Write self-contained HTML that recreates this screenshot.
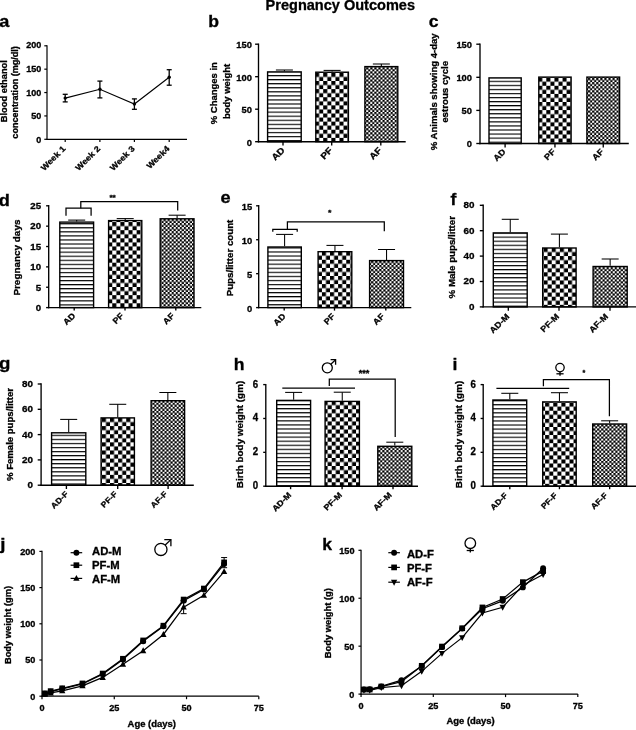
<!DOCTYPE html>
<html><head><meta charset="utf-8"><title>Pregnancy Outcomes</title>
<style>
html,body{margin:0;padding:0;background:#fff;}
body{width:636px;height:730px;overflow:hidden;font-family:"Liberation Sans",sans-serif;}
svg{display:block;filter:blur(0.42px);}
text{font-family:"Liberation Sans",sans-serif;font-weight:bold;fill:#000;stroke:#000;stroke-width:0.3px;}
</style></head><body>
<svg width="636" height="730" viewBox="0 0 636 730">
<defs>
</defs>
<rect width="636" height="730" fill="#fff"/>

<text transform="translate(340.30 10.30) scale(1.1 1)" font-size="14.20" text-anchor="middle" textLength="135.8" lengthAdjust="spacingAndGlyphs" >Pregnancy Outcomes</text>
<text transform="translate(-0.80 27.00) scale(1.1 1)" font-size="16.50" text-anchor="start" >a</text>
<line x1="47.00" y1="45.20" x2="47.00" y2="139.90" stroke="#000" stroke-width="1.2"/>
<line x1="44.30" y1="139.30" x2="47.00" y2="139.30" stroke="#000" stroke-width="1.2"/>
<text transform="translate(41.30 143.03) scale(1.1 1)" font-size="8.20" text-anchor="end" >0</text>
<line x1="44.30" y1="115.93" x2="47.00" y2="115.93" stroke="#000" stroke-width="1.2"/>
<text transform="translate(41.30 119.31) scale(1.1 1)" font-size="8.20" text-anchor="end" >50</text>
<line x1="44.30" y1="92.55" x2="47.00" y2="92.55" stroke="#000" stroke-width="1.2"/>
<text transform="translate(41.30 95.58) scale(1.1 1)" font-size="8.20" text-anchor="end" >100</text>
<line x1="44.30" y1="69.17" x2="47.00" y2="69.17" stroke="#000" stroke-width="1.2"/>
<text transform="translate(41.30 72.11) scale(1.1 1)" font-size="8.20" text-anchor="end" >150</text>
<line x1="44.30" y1="45.80" x2="47.00" y2="45.80" stroke="#000" stroke-width="1.2"/>
<text transform="translate(41.30 48.28) scale(1.1 1)" font-size="8.20" text-anchor="end" >200</text>
<line x1="46.40" y1="139.30" x2="187.00" y2="139.30" stroke="#000" stroke-width="1.2"/>
<line x1="65.20" y1="139.30" x2="65.20" y2="142.00" stroke="#000" stroke-width="1.2"/>
<line x1="99.90" y1="139.30" x2="99.90" y2="142.00" stroke="#000" stroke-width="1.2"/>
<line x1="134.40" y1="139.30" x2="134.40" y2="142.00" stroke="#000" stroke-width="1.2"/>
<line x1="169.20" y1="139.30" x2="169.20" y2="142.00" stroke="#000" stroke-width="1.2"/>
<polyline fill="none" stroke="#000" stroke-width="1.1" points="65.20,98.10 99.90,89.30 134.40,104.00 169.20,77.30"/>
<line x1="65.20" y1="94.30" x2="65.20" y2="101.90" stroke="#000" stroke-width="1.3"/>
<line x1="62.70" y1="94.30" x2="67.70" y2="94.30" stroke="#000" stroke-width="1.3"/>
<line x1="62.70" y1="101.90" x2="67.70" y2="101.90" stroke="#000" stroke-width="1.3"/>
<circle cx="65.2" cy="98.1" r="1.7" fill="#000"/>
<line x1="99.90" y1="81.10" x2="99.90" y2="97.90" stroke="#000" stroke-width="1.3"/>
<line x1="97.40" y1="81.10" x2="102.40" y2="81.10" stroke="#000" stroke-width="1.3"/>
<line x1="97.40" y1="97.90" x2="102.40" y2="97.90" stroke="#000" stroke-width="1.3"/>
<circle cx="99.9" cy="89.3" r="1.7" fill="#000"/>
<line x1="134.40" y1="98.90" x2="134.40" y2="109.30" stroke="#000" stroke-width="1.3"/>
<line x1="131.90" y1="98.90" x2="136.90" y2="98.90" stroke="#000" stroke-width="1.3"/>
<line x1="131.90" y1="109.30" x2="136.90" y2="109.30" stroke="#000" stroke-width="1.3"/>
<circle cx="134.4" cy="104" r="1.7" fill="#000"/>
<line x1="169.20" y1="69.70" x2="169.20" y2="85.20" stroke="#000" stroke-width="1.3"/>
<line x1="166.70" y1="69.70" x2="171.70" y2="69.70" stroke="#000" stroke-width="1.3"/>
<line x1="166.70" y1="85.20" x2="171.70" y2="85.20" stroke="#000" stroke-width="1.3"/>
<circle cx="169.2" cy="77.3" r="1.7" fill="#000"/>
<text transform="translate(66.00 149.30) rotate(-45) scale(1.1 1)" font-size="8.20" text-anchor="end" >Week 1</text>
<text transform="translate(100.70 149.30) rotate(-45) scale(1.1 1)" font-size="8.20" text-anchor="end" >Week 2</text>
<text transform="translate(135.20 149.30) rotate(-45) scale(1.1 1)" font-size="8.20" text-anchor="end" >Week 3</text>
<text transform="translate(170.00 149.30) rotate(-45) scale(1.1 1)" font-size="8.20" text-anchor="end" >Week4</text>
<text transform="translate(7.20 91.20) rotate(-90) scale(1.0 1)" font-size="9.33" text-anchor="middle" >Blood ethanol</text>
<text transform="translate(18.40 92.40) rotate(-90) scale(1.0 1)" font-size="9.06" text-anchor="middle" >concentration (mg/dl)</text>
<text transform="translate(208.20 27.10) scale(1.1 1)" font-size="16.00" text-anchor="start" >b</text>
<line x1="284.40" y1="71.20" x2="284.40" y2="70.00" stroke="#000" stroke-width="1.05"/>
<line x1="275.90" y1="70.00" x2="292.90" y2="70.00" stroke="#000" stroke-width="1.05"/>
<pattern id="p1" patternUnits="userSpaceOnUse" x="266.90" y="75.03" width="8.12" height="4.06"><rect width="8.12" height="4.06" fill="#fff"/><rect width="8.12" height="1.15" fill="#000"/></pattern>
<rect x="267.60" y="71.90" width="33.60" height="69.80" fill="url(#p1)" stroke="#000" stroke-width="1.4"/>
<line x1="332.10" y1="71.50" x2="332.10" y2="70.40" stroke="#000" stroke-width="1.05"/>
<line x1="323.60" y1="70.40" x2="340.60" y2="70.40" stroke="#000" stroke-width="1.05"/>
<pattern id="p2" patternUnits="userSpaceOnUse" x="315.10" y="72.90" width="8.12" height="8.12"><rect width="8.12" height="8.12" fill="#fff"/><rect width="4.06" height="4.06" fill="#000"/><rect x="4.06" y="4.06" width="4.06" height="4.06" fill="#000"/></pattern>
<rect x="315.80" y="72.20" width="32.60" height="69.50" fill="url(#p2)" stroke="#000" stroke-width="1.4"/>
<line x1="381.35" y1="65.90" x2="381.35" y2="64.00" stroke="#000" stroke-width="1.05"/>
<line x1="372.85" y1="64.00" x2="389.85" y2="64.00" stroke="#000" stroke-width="1.05"/>
<pattern id="p3" patternUnits="userSpaceOnUse" x="366.23" y="67.30" width="4.06" height="4.06"><rect width="4.06" height="4.06" fill="#fff"/><rect x="-0.1" y="-0.1" width="2.23" height="2.23" fill="#000"/><rect x="1.9299999999999997" y="1.9299999999999997" width="2.23" height="2.23" fill="#000"/></pattern>
<rect x="364.90" y="66.60" width="32.90" height="75.10" fill="url(#p3)" stroke="#000" stroke-width="1.4"/>
<line x1="258.50" y1="43.53" x2="258.50" y2="142.38" stroke="#000" stroke-width="1.35"/>
<line x1="255.10" y1="141.70" x2="258.50" y2="141.70" stroke="#000" stroke-width="1.35"/>
<text transform="translate(251.90 145.63) scale(1.04 1)" font-size="9.00" text-anchor="end" >0</text>
<line x1="255.10" y1="109.20" x2="258.50" y2="109.20" stroke="#000" stroke-width="1.35"/>
<text transform="translate(251.90 113.13) scale(1.04 1)" font-size="9.00" text-anchor="end" >50</text>
<line x1="255.10" y1="76.70" x2="258.50" y2="76.70" stroke="#000" stroke-width="1.35"/>
<text transform="translate(251.90 80.63) scale(1.04 1)" font-size="9.00" text-anchor="end" >100</text>
<line x1="255.10" y1="44.20" x2="258.50" y2="44.20" stroke="#000" stroke-width="1.35"/>
<text transform="translate(251.90 48.13) scale(1.04 1)" font-size="9.00" text-anchor="end" >150</text>
<line x1="257.82" y1="141.70" x2="405.70" y2="141.70" stroke="#000" stroke-width="1.35"/>
<line x1="283.00" y1="141.70" x2="283.00" y2="145.50" stroke="#000" stroke-width="1.35"/>
<line x1="331.70" y1="141.70" x2="331.70" y2="145.50" stroke="#000" stroke-width="1.35"/>
<line x1="380.80" y1="141.70" x2="380.80" y2="145.50" stroke="#000" stroke-width="1.35"/>
<text transform="translate(285.40 151.00) rotate(-45) scale(1.1 1)" font-size="9.00" text-anchor="end" >AD</text>
<text transform="translate(333.10 151.00) rotate(-45) scale(1.1 1)" font-size="9.00" text-anchor="end" >PF</text>
<text transform="translate(382.35 151.00) rotate(-45) scale(1.1 1)" font-size="9.00" text-anchor="end" >AF</text>
<text transform="translate(217.40 93.20) rotate(-90) scale(1.0 1)" font-size="9.47" text-anchor="middle" >% Changes in</text>
<text transform="translate(229.80 91.50) rotate(-90) scale(1.0 1)" font-size="9.48" text-anchor="middle" >body weight</text>
<text transform="translate(428.70 27.40) scale(1.1 1)" font-size="16.00" text-anchor="start" >c</text>
<pattern id="p4" patternUnits="userSpaceOnUse" x="488.30" y="80.73" width="8.12" height="4.06"><rect width="8.12" height="4.06" fill="#fff"/><rect width="8.12" height="1.15" fill="#000"/></pattern>
<rect x="489.00" y="77.90" width="32.20" height="65.60" fill="url(#p4)" stroke="#000" stroke-width="1.4"/>
<pattern id="p5" patternUnits="userSpaceOnUse" x="538.20" y="77.65" width="8.12" height="8.12"><rect width="8.12" height="8.12" fill="#fff"/><rect width="4.06" height="4.06" fill="#000"/><rect x="4.06" y="4.06" width="4.06" height="4.06" fill="#000"/></pattern>
<rect x="538.80" y="77.10" width="32.30" height="66.40" fill="url(#p5)" stroke="#000" stroke-width="1.4"/>
<pattern id="p6" patternUnits="userSpaceOnUse" x="588.13" y="78.10" width="4.06" height="4.06"><rect width="4.06" height="4.06" fill="#fff"/><rect x="-0.1" y="-0.1" width="2.23" height="2.23" fill="#000"/><rect x="1.9299999999999997" y="1.9299999999999997" width="2.23" height="2.23" fill="#000"/></pattern>
<rect x="586.90" y="77.10" width="32.70" height="66.40" fill="url(#p6)" stroke="#000" stroke-width="1.4"/>
<line x1="480.00" y1="43.53" x2="480.00" y2="144.18" stroke="#000" stroke-width="1.35"/>
<line x1="476.30" y1="143.50" x2="480.00" y2="143.50" stroke="#000" stroke-width="1.35"/>
<text transform="translate(472.00 146.83) scale(1.04 1)" font-size="9.00" text-anchor="end" >0</text>
<line x1="476.30" y1="110.40" x2="480.00" y2="110.40" stroke="#000" stroke-width="1.35"/>
<text transform="translate(472.00 113.73) scale(1.04 1)" font-size="9.00" text-anchor="end" >50</text>
<line x1="476.30" y1="77.30" x2="480.00" y2="77.30" stroke="#000" stroke-width="1.35"/>
<text transform="translate(472.00 80.63) scale(1.04 1)" font-size="9.00" text-anchor="end" >100</text>
<line x1="476.30" y1="44.20" x2="480.00" y2="44.20" stroke="#000" stroke-width="1.35"/>
<text transform="translate(472.00 47.53) scale(1.04 1)" font-size="9.00" text-anchor="end" >150</text>
<line x1="479.32" y1="143.50" x2="628.80" y2="143.50" stroke="#000" stroke-width="1.35"/>
<line x1="505.10" y1="143.50" x2="505.10" y2="147.60" stroke="#000" stroke-width="1.35"/>
<line x1="554.95" y1="143.50" x2="554.95" y2="147.60" stroke="#000" stroke-width="1.35"/>
<line x1="603.25" y1="143.50" x2="603.25" y2="147.60" stroke="#000" stroke-width="1.35"/>
<text transform="translate(506.10 152.30) rotate(-45) scale(1.1 1)" font-size="8.40" text-anchor="end" >AD</text>
<text transform="translate(555.95 152.30) rotate(-45) scale(1.1 1)" font-size="8.40" text-anchor="end" >PF</text>
<text transform="translate(604.25 152.30) rotate(-45) scale(1.1 1)" font-size="8.40" text-anchor="end" >AF</text>
<text transform="translate(436.50 91.80) rotate(-90) scale(1.0 1)" font-size="9.56" text-anchor="middle" >% Animals showing 4-day</text>
<text transform="translate(447.70 91.80) rotate(-90) scale(1.03 1)" font-size="9.43" text-anchor="middle" >estrous cycle</text>
<text transform="translate(-1.30 205.50) scale(1.1 1)" font-size="16.50" text-anchor="start" >d</text>
<line x1="76.70" y1="221.40" x2="76.70" y2="220.10" stroke="#000" stroke-width="1.05"/>
<line x1="68.20" y1="220.10" x2="85.20" y2="220.10" stroke="#000" stroke-width="1.05"/>
<pattern id="p7" patternUnits="userSpaceOnUse" x="59.10" y="227.23" width="8.12" height="4.06"><rect width="8.12" height="4.06" fill="#fff"/><rect width="8.12" height="1.15" fill="#000"/></pattern>
<rect x="59.80" y="222.10" width="33.80" height="85.50" fill="url(#p7)" stroke="#000" stroke-width="1.4"/>
<line x1="125.20" y1="219.90" x2="125.20" y2="218.60" stroke="#000" stroke-width="1.05"/>
<line x1="116.70" y1="218.60" x2="133.70" y2="218.60" stroke="#000" stroke-width="1.05"/>
<pattern id="p8" patternUnits="userSpaceOnUse" x="112.26" y="222.10" width="8.12" height="8.12"><rect width="8.12" height="8.12" fill="#fff"/><rect width="4.06" height="4.06" fill="#000"/><rect x="4.06" y="4.06" width="4.06" height="4.06" fill="#000"/></pattern>
<rect x="108.60" y="220.60" width="33.20" height="87.00" fill="url(#p8)" stroke="#000" stroke-width="1.4"/>
<line x1="177.10" y1="218.10" x2="177.10" y2="215.20" stroke="#000" stroke-width="1.05"/>
<line x1="168.60" y1="215.20" x2="185.60" y2="215.20" stroke="#000" stroke-width="1.05"/>
<pattern id="p9" patternUnits="userSpaceOnUse" x="163.53" y="219.00" width="4.06" height="4.06"><rect width="4.06" height="4.06" fill="#fff"/><rect x="-0.1" y="-0.1" width="2.23" height="2.23" fill="#000"/><rect x="1.9299999999999997" y="1.9299999999999997" width="2.23" height="2.23" fill="#000"/></pattern>
<rect x="160.20" y="218.80" width="33.80" height="88.80" fill="url(#p9)" stroke="#000" stroke-width="1.4"/>
<line x1="48.70" y1="205.12" x2="48.70" y2="308.28" stroke="#000" stroke-width="1.35"/>
<line x1="46.10" y1="307.60" x2="48.70" y2="307.60" stroke="#000" stroke-width="1.35"/>
<text transform="translate(41.10 310.86) scale(1.1 1)" font-size="8.80" text-anchor="end" >0</text>
<line x1="46.10" y1="287.24" x2="48.70" y2="287.24" stroke="#000" stroke-width="1.35"/>
<text transform="translate(41.10 290.50) scale(1.1 1)" font-size="8.80" text-anchor="end" >5</text>
<line x1="46.10" y1="266.88" x2="48.70" y2="266.88" stroke="#000" stroke-width="1.35"/>
<text transform="translate(41.10 270.14) scale(1.1 1)" font-size="8.80" text-anchor="end" >10</text>
<line x1="46.10" y1="246.52" x2="48.70" y2="246.52" stroke="#000" stroke-width="1.35"/>
<text transform="translate(41.10 249.78) scale(1.1 1)" font-size="8.80" text-anchor="end" >15</text>
<line x1="46.10" y1="226.16" x2="48.70" y2="226.16" stroke="#000" stroke-width="1.35"/>
<text transform="translate(41.10 229.42) scale(1.1 1)" font-size="8.80" text-anchor="end" >20</text>
<line x1="46.10" y1="205.80" x2="48.70" y2="205.80" stroke="#000" stroke-width="1.35"/>
<text transform="translate(41.10 209.06) scale(1.1 1)" font-size="8.80" text-anchor="end" >25</text>
<line x1="48.03" y1="307.60" x2="201.30" y2="307.60" stroke="#000" stroke-width="1.35"/>
<line x1="74.20" y1="307.60" x2="74.20" y2="310.60" stroke="#000" stroke-width="1.35"/>
<line x1="125.00" y1="307.60" x2="125.00" y2="310.60" stroke="#000" stroke-width="1.35"/>
<line x1="175.80" y1="307.60" x2="175.80" y2="310.60" stroke="#000" stroke-width="1.35"/>
<text transform="translate(75.80 316.30) rotate(-45) scale(1.1 1)" font-size="8.30" text-anchor="end" >AD</text>
<text transform="translate(124.30 316.30) rotate(-45) scale(1.1 1)" font-size="8.30" text-anchor="end" >PF</text>
<text transform="translate(174.90 316.30) rotate(-45) scale(1.1 1)" font-size="8.30" text-anchor="end" >AF</text>
<text transform="translate(20.20 257.60) rotate(-90) scale(1.1 1)" font-size="9.02" text-anchor="middle" >Pregnancy days</text>
<polyline fill="none" stroke="#000" stroke-width="1.25" points="66.00,215.80 66.00,208.20 91.10,208.20 91.10,215.80"/>
<polyline fill="none" stroke="#000" stroke-width="1.25" points="80.80,208.20 80.80,201.60 177.70,201.60 177.70,210.50"/>
<text transform="translate(112.60 199.80) scale(1.1 1)" font-size="7.50" text-anchor="middle" >**</text>
<text transform="translate(220.60 202.90) scale(1.1 1)" font-size="16.50" text-anchor="start" >e</text>
<line x1="284.60" y1="246.30" x2="284.60" y2="234.40" stroke="#000" stroke-width="1.05"/>
<line x1="276.10" y1="234.40" x2="293.10" y2="234.40" stroke="#000" stroke-width="1.05"/>
<pattern id="p10" patternUnits="userSpaceOnUse" x="267.20" y="251.43" width="8.12" height="4.06"><rect width="8.12" height="4.06" fill="#fff"/><rect width="8.12" height="1.15" fill="#000"/></pattern>
<rect x="267.90" y="247.00" width="33.40" height="60.60" fill="url(#p10)" stroke="#000" stroke-width="1.4"/>
<line x1="334.95" y1="251.00" x2="334.95" y2="245.40" stroke="#000" stroke-width="1.05"/>
<line x1="326.45" y1="245.40" x2="343.45" y2="245.40" stroke="#000" stroke-width="1.05"/>
<pattern id="p11" patternUnits="userSpaceOnUse" x="321.90" y="251.65" width="8.12" height="8.12"><rect width="8.12" height="8.12" fill="#fff"/><rect width="4.06" height="4.06" fill="#000"/><rect x="4.06" y="4.06" width="4.06" height="4.06" fill="#000"/></pattern>
<rect x="318.10" y="251.70" width="33.70" height="55.90" fill="url(#p11)" stroke="#000" stroke-width="1.4"/>
<line x1="386.55" y1="259.90" x2="386.55" y2="249.50" stroke="#000" stroke-width="1.05"/>
<line x1="378.05" y1="249.50" x2="395.05" y2="249.50" stroke="#000" stroke-width="1.05"/>
<pattern id="p12" patternUnits="userSpaceOnUse" x="371.18" y="260.95" width="4.06" height="4.06"><rect width="4.06" height="4.06" fill="#fff"/><rect x="-0.1" y="-0.1" width="2.23" height="2.23" fill="#000"/><rect x="1.9299999999999997" y="1.9299999999999997" width="2.23" height="2.23" fill="#000"/></pattern>
<rect x="369.60" y="260.60" width="33.90" height="47.00" fill="url(#p12)" stroke="#000" stroke-width="1.4"/>
<line x1="258.70" y1="205.12" x2="258.70" y2="308.28" stroke="#000" stroke-width="1.35"/>
<line x1="256.10" y1="307.60" x2="258.70" y2="307.60" stroke="#000" stroke-width="1.35"/>
<text transform="translate(252.10 311.53) scale(1.0 1)" font-size="9.40" text-anchor="end" >0</text>
<line x1="256.10" y1="273.67" x2="258.70" y2="273.67" stroke="#000" stroke-width="1.35"/>
<text transform="translate(252.10 277.59) scale(1.0 1)" font-size="9.40" text-anchor="end" >5</text>
<line x1="256.10" y1="239.73" x2="258.70" y2="239.73" stroke="#000" stroke-width="1.35"/>
<text transform="translate(252.10 243.66) scale(1.0 1)" font-size="9.40" text-anchor="end" >10</text>
<line x1="256.10" y1="205.80" x2="258.70" y2="205.80" stroke="#000" stroke-width="1.35"/>
<text transform="translate(252.10 209.73) scale(1.0 1)" font-size="9.40" text-anchor="end" >15</text>
<line x1="258.02" y1="307.60" x2="411.30" y2="307.60" stroke="#000" stroke-width="1.35"/>
<line x1="284.20" y1="307.60" x2="284.20" y2="310.60" stroke="#000" stroke-width="1.35"/>
<line x1="334.50" y1="307.60" x2="334.50" y2="310.60" stroke="#000" stroke-width="1.35"/>
<line x1="385.80" y1="307.60" x2="385.80" y2="310.60" stroke="#000" stroke-width="1.35"/>
<text transform="translate(286.10 316.90) rotate(-45) scale(1.1 1)" font-size="8.30" text-anchor="end" >AD</text>
<text transform="translate(335.45 316.90) rotate(-45) scale(1.1 1)" font-size="8.30" text-anchor="end" >PF</text>
<text transform="translate(384.85 316.90) rotate(-45) scale(1.1 1)" font-size="8.30" text-anchor="end" >AF</text>
<text transform="translate(233.40 258.00) rotate(-90) scale(1.1 1)" font-size="8.84" text-anchor="middle" >Pups/litter count</text>
<polyline fill="none" stroke="#000" stroke-width="1.25" points="272.80,231.80 272.80,229.30 297.20,229.30 297.20,231.80"/>
<polyline fill="none" stroke="#000" stroke-width="1.25" points="287.40,229.30 287.40,221.80 384.30,221.80 384.30,231.20"/>
<text transform="translate(329.60 215.30) scale(1.1 1)" font-size="8.00" text-anchor="middle" >*</text>
<text transform="translate(450.50 204.80) scale(1.1 1)" font-size="16.00" text-anchor="start" >f</text>
<line x1="510.25" y1="232.20" x2="510.25" y2="219.30" stroke="#000" stroke-width="1.05"/>
<line x1="501.75" y1="219.30" x2="518.75" y2="219.30" stroke="#000" stroke-width="1.05"/>
<pattern id="p13" patternUnits="userSpaceOnUse" x="492.60" y="236.58" width="8.12" height="4.06"><rect width="8.12" height="4.06" fill="#fff"/><rect width="8.12" height="1.15" fill="#000"/></pattern>
<rect x="493.30" y="232.90" width="33.90" height="74.00" fill="url(#p13)" stroke="#000" stroke-width="1.4"/>
<line x1="559.40" y1="247.30" x2="559.40" y2="234.10" stroke="#000" stroke-width="1.05"/>
<line x1="550.90" y1="234.10" x2="567.90" y2="234.10" stroke="#000" stroke-width="1.05"/>
<pattern id="p14" patternUnits="userSpaceOnUse" x="543.60" y="247.97" width="8.12" height="8.12"><rect width="8.12" height="8.12" fill="#fff"/><rect width="4.06" height="4.06" fill="#000"/><rect x="4.06" y="4.06" width="4.06" height="4.06" fill="#000"/></pattern>
<rect x="542.70" y="248.00" width="33.40" height="58.90" fill="url(#p14)" stroke="#000" stroke-width="1.4"/>
<line x1="610.15" y1="265.80" x2="610.15" y2="259.00" stroke="#000" stroke-width="1.05"/>
<line x1="601.65" y1="259.00" x2="618.65" y2="259.00" stroke="#000" stroke-width="1.05"/>
<pattern id="p15" patternUnits="userSpaceOnUse" x="594.43" y="267.20" width="4.06" height="4.06"><rect width="4.06" height="4.06" fill="#fff"/><rect x="-0.1" y="-0.1" width="2.23" height="2.23" fill="#000"/><rect x="1.9299999999999997" y="1.9299999999999997" width="2.23" height="2.23" fill="#000"/></pattern>
<rect x="593.10" y="266.50" width="34.10" height="40.40" fill="url(#p15)" stroke="#000" stroke-width="1.4"/>
<line x1="483.20" y1="204.62" x2="483.20" y2="307.57" stroke="#000" stroke-width="1.35"/>
<line x1="479.80" y1="306.90" x2="483.20" y2="306.90" stroke="#000" stroke-width="1.35"/>
<text transform="translate(474.50 309.81) scale(1.04 1)" font-size="9.50" text-anchor="end" >0</text>
<line x1="479.80" y1="281.50" x2="483.20" y2="281.50" stroke="#000" stroke-width="1.35"/>
<text transform="translate(474.50 284.41) scale(1.04 1)" font-size="9.50" text-anchor="end" >20</text>
<line x1="479.80" y1="256.10" x2="483.20" y2="256.10" stroke="#000" stroke-width="1.35"/>
<text transform="translate(474.50 259.01) scale(1.04 1)" font-size="9.50" text-anchor="end" >40</text>
<line x1="479.80" y1="230.70" x2="483.20" y2="230.70" stroke="#000" stroke-width="1.35"/>
<text transform="translate(474.50 233.61) scale(1.04 1)" font-size="9.50" text-anchor="end" >60</text>
<line x1="479.80" y1="205.30" x2="483.20" y2="205.30" stroke="#000" stroke-width="1.35"/>
<text transform="translate(474.50 208.22) scale(1.04 1)" font-size="9.50" text-anchor="end" >80</text>
<line x1="482.52" y1="306.90" x2="636.00" y2="306.90" stroke="#000" stroke-width="1.35"/>
<line x1="508.30" y1="306.90" x2="508.30" y2="310.70" stroke="#000" stroke-width="1.35"/>
<line x1="559.00" y1="306.90" x2="559.00" y2="310.70" stroke="#000" stroke-width="1.35"/>
<line x1="610.00" y1="306.90" x2="610.00" y2="310.70" stroke="#000" stroke-width="1.35"/>
<text transform="translate(509.95 317.00) rotate(-45) scale(1.1 1)" font-size="8.30" text-anchor="end" >AD-M</text>
<text transform="translate(559.60 317.00) rotate(-45) scale(1.1 1)" font-size="8.30" text-anchor="end" >PF-M</text>
<text transform="translate(608.55 317.00) rotate(-45) scale(1.1 1)" font-size="8.30" text-anchor="end" >AF-M</text>
<text transform="translate(455.30 257.20) rotate(-90) scale(1.05 1)" font-size="9.25" text-anchor="middle" >% Male pups/litter</text>
<text transform="translate(-0.90 368.70) scale(1.1 1)" font-size="17.00" text-anchor="start" >g</text>
<line x1="68.70" y1="432.10" x2="68.70" y2="419.40" stroke="#000" stroke-width="1.05"/>
<line x1="60.20" y1="419.40" x2="77.20" y2="419.40" stroke="#000" stroke-width="1.05"/>
<pattern id="p16" patternUnits="userSpaceOnUse" x="50.90" y="434.73" width="8.12" height="4.06"><rect width="8.12" height="4.06" fill="#fff"/><rect width="8.12" height="1.15" fill="#000"/></pattern>
<rect x="51.60" y="432.80" width="34.20" height="52.40" fill="url(#p16)" stroke="#000" stroke-width="1.4"/>
<line x1="117.75" y1="417.20" x2="117.75" y2="404.30" stroke="#000" stroke-width="1.05"/>
<line x1="109.25" y1="404.30" x2="126.25" y2="404.30" stroke="#000" stroke-width="1.05"/>
<pattern id="p17" patternUnits="userSpaceOnUse" x="101.90" y="418.00" width="8.12" height="8.12"><rect width="8.12" height="8.12" fill="#fff"/><rect width="4.06" height="4.06" fill="#000"/><rect x="4.06" y="4.06" width="4.06" height="4.06" fill="#000"/></pattern>
<rect x="101.10" y="417.90" width="33.30" height="67.30" fill="url(#p17)" stroke="#000" stroke-width="1.4"/>
<line x1="167.85" y1="400.00" x2="167.85" y2="392.50" stroke="#000" stroke-width="1.05"/>
<line x1="159.35" y1="392.50" x2="176.35" y2="392.50" stroke="#000" stroke-width="1.05"/>
<pattern id="p18" patternUnits="userSpaceOnUse" x="152.33" y="402.75" width="4.06" height="4.06"><rect width="4.06" height="4.06" fill="#fff"/><rect x="-0.1" y="-0.1" width="2.23" height="2.23" fill="#000"/><rect x="1.9299999999999997" y="1.9299999999999997" width="2.23" height="2.23" fill="#000"/></pattern>
<rect x="151.10" y="400.70" width="33.50" height="84.50" fill="url(#p18)" stroke="#000" stroke-width="1.4"/>
<line x1="41.10" y1="383.32" x2="41.10" y2="485.88" stroke="#000" stroke-width="1.35"/>
<line x1="37.70" y1="485.20" x2="41.10" y2="485.20" stroke="#000" stroke-width="1.35"/>
<text transform="translate(33.10 488.31) scale(1.04 1)" font-size="9.50" text-anchor="end" >0</text>
<line x1="37.70" y1="459.90" x2="41.10" y2="459.90" stroke="#000" stroke-width="1.35"/>
<text transform="translate(33.10 463.01) scale(1.04 1)" font-size="9.50" text-anchor="end" >20</text>
<line x1="37.70" y1="434.60" x2="41.10" y2="434.60" stroke="#000" stroke-width="1.35"/>
<text transform="translate(33.10 437.72) scale(1.04 1)" font-size="9.50" text-anchor="end" >40</text>
<line x1="37.70" y1="409.30" x2="41.10" y2="409.30" stroke="#000" stroke-width="1.35"/>
<text transform="translate(33.10 412.42) scale(1.04 1)" font-size="9.50" text-anchor="end" >60</text>
<line x1="37.70" y1="384.00" x2="41.10" y2="384.00" stroke="#000" stroke-width="1.35"/>
<text transform="translate(33.10 387.12) scale(1.04 1)" font-size="9.50" text-anchor="end" >80</text>
<line x1="40.43" y1="485.20" x2="193.80" y2="485.20" stroke="#000" stroke-width="1.35"/>
<line x1="66.40" y1="485.20" x2="66.40" y2="489.00" stroke="#000" stroke-width="1.35"/>
<line x1="117.70" y1="485.20" x2="117.70" y2="489.00" stroke="#000" stroke-width="1.35"/>
<line x1="168.10" y1="485.20" x2="168.10" y2="489.00" stroke="#000" stroke-width="1.35"/>
<text transform="translate(68.70 494.50) rotate(-45) scale(1.1 1)" font-size="7.90" text-anchor="end" >AD-F</text>
<text transform="translate(117.75 494.50) rotate(-45) scale(1.1 1)" font-size="7.90" text-anchor="end" >PF-F</text>
<text transform="translate(167.85 494.50) rotate(-45) scale(1.1 1)" font-size="7.90" text-anchor="end" >AF-F</text>
<text transform="translate(12.60 434.50) rotate(-90) scale(1.05 1)" font-size="9.12" text-anchor="middle" >% Female pups/litter</text>
<text transform="translate(233.80 370.30) scale(1.1 1)" font-size="16.00" text-anchor="start" >h</text>
<line x1="293.65" y1="399.70" x2="293.65" y2="392.40" stroke="#000" stroke-width="1.05"/>
<line x1="285.15" y1="392.40" x2="302.15" y2="392.40" stroke="#000" stroke-width="1.05"/>
<pattern id="p19" patternUnits="userSpaceOnUse" x="276.00" y="404.08" width="8.12" height="4.06"><rect width="8.12" height="4.06" fill="#fff"/><rect width="8.12" height="1.15" fill="#000"/></pattern>
<rect x="276.70" y="400.40" width="33.90" height="85.80" fill="url(#p19)" stroke="#000" stroke-width="1.4"/>
<line x1="342.25" y1="400.70" x2="342.25" y2="392.20" stroke="#000" stroke-width="1.05"/>
<line x1="333.75" y1="392.20" x2="350.75" y2="392.20" stroke="#000" stroke-width="1.05"/>
<pattern id="p20" patternUnits="userSpaceOnUse" x="323.60" y="401.10" width="8.12" height="8.12"><rect width="8.12" height="8.12" fill="#fff"/><rect width="4.06" height="4.06" fill="#000"/><rect x="4.06" y="4.06" width="4.06" height="4.06" fill="#000"/></pattern>
<rect x="325.10" y="401.40" width="34.30" height="84.80" fill="url(#p20)" stroke="#000" stroke-width="1.4"/>
<line x1="394.80" y1="445.60" x2="394.80" y2="442.20" stroke="#000" stroke-width="1.05"/>
<line x1="386.30" y1="442.20" x2="403.30" y2="442.20" stroke="#000" stroke-width="1.05"/>
<pattern id="p21" patternUnits="userSpaceOnUse" x="378.23" y="446.10" width="4.06" height="4.06"><rect width="4.06" height="4.06" fill="#fff"/><rect x="-0.1" y="-0.1" width="2.23" height="2.23" fill="#000"/><rect x="1.9299999999999997" y="1.9299999999999997" width="2.23" height="2.23" fill="#000"/></pattern>
<rect x="377.80" y="446.30" width="34.00" height="39.90" fill="url(#p21)" stroke="#000" stroke-width="1.4"/>
<line x1="265.80" y1="383.93" x2="265.80" y2="486.88" stroke="#000" stroke-width="1.35"/>
<line x1="263.20" y1="486.20" x2="265.80" y2="486.20" stroke="#000" stroke-width="1.35"/>
<text transform="translate(258.20 489.14) scale(0.96 1)" font-size="10.10" text-anchor="end" >0</text>
<line x1="263.20" y1="452.33" x2="265.80" y2="452.33" stroke="#000" stroke-width="1.35"/>
<text transform="translate(258.20 455.27) scale(0.96 1)" font-size="10.10" text-anchor="end" >2</text>
<line x1="263.20" y1="418.47" x2="265.80" y2="418.47" stroke="#000" stroke-width="1.35"/>
<text transform="translate(258.20 421.40) scale(0.96 1)" font-size="10.10" text-anchor="end" >4</text>
<line x1="263.20" y1="384.60" x2="265.80" y2="384.60" stroke="#000" stroke-width="1.35"/>
<text transform="translate(258.20 387.54) scale(0.96 1)" font-size="10.10" text-anchor="end" >6</text>
<line x1="265.12" y1="486.20" x2="418.00" y2="486.20" stroke="#000" stroke-width="1.35"/>
<line x1="290.60" y1="486.20" x2="290.60" y2="489.20" stroke="#000" stroke-width="1.35"/>
<line x1="342.10" y1="486.20" x2="342.10" y2="489.20" stroke="#000" stroke-width="1.35"/>
<line x1="393.00" y1="486.20" x2="393.00" y2="489.20" stroke="#000" stroke-width="1.35"/>
<text transform="translate(291.85 495.50) rotate(-45) scale(1.1 1)" font-size="8.10" text-anchor="end" >AD-M</text>
<text transform="translate(342.45 495.50) rotate(-45) scale(1.1 1)" font-size="8.10" text-anchor="end" >PF-M</text>
<text transform="translate(392.20 495.50) rotate(-45) scale(1.1 1)" font-size="8.10" text-anchor="end" >AF-M</text>
<text transform="translate(242.50 434.50) rotate(-90) scale(1.03 1)" font-size="9.59" text-anchor="middle" >Birth body weight (gm)</text>
<line x1="282.30" y1="388.20" x2="355.00" y2="388.20" stroke="#000" stroke-width="1.25"/>
<polyline fill="none" stroke="#000" stroke-width="1.25" points="329.30,386.00 329.30,379.20 395.20,379.20 395.20,437.10"/>
<text transform="translate(364.00 376.00) scale(1.1 1)" font-size="8.30" text-anchor="middle" >***</text>
<text transform="translate(452.60 370.40) scale(1.1 1)" font-size="16.00" text-anchor="start" >i</text>
<line x1="509.80" y1="399.30" x2="509.80" y2="393.30" stroke="#000" stroke-width="1.05"/>
<line x1="501.30" y1="393.30" x2="518.30" y2="393.30" stroke="#000" stroke-width="1.05"/>
<pattern id="p22" patternUnits="userSpaceOnUse" x="492.20" y="404.18" width="8.12" height="4.06"><rect width="8.12" height="4.06" fill="#fff"/><rect width="8.12" height="1.15" fill="#000"/></pattern>
<rect x="492.90" y="400.00" width="33.80" height="86.20" fill="url(#p22)" stroke="#000" stroke-width="1.4"/>
<line x1="559.45" y1="401.20" x2="559.45" y2="392.70" stroke="#000" stroke-width="1.05"/>
<line x1="550.95" y1="392.70" x2="567.95" y2="392.70" stroke="#000" stroke-width="1.05"/>
<pattern id="p23" patternUnits="userSpaceOnUse" x="545.15" y="402.60" width="8.12" height="8.12"><rect width="8.12" height="8.12" fill="#fff"/><rect width="4.06" height="4.06" fill="#000"/><rect x="4.06" y="4.06" width="4.06" height="4.06" fill="#000"/></pattern>
<rect x="542.70" y="401.90" width="33.50" height="84.30" fill="url(#p23)" stroke="#000" stroke-width="1.4"/>
<line x1="609.65" y1="423.30" x2="609.65" y2="420.80" stroke="#000" stroke-width="1.05"/>
<line x1="601.15" y1="420.80" x2="618.15" y2="420.80" stroke="#000" stroke-width="1.05"/>
<pattern id="p24" patternUnits="userSpaceOnUse" x="593.13" y="424.35" width="4.06" height="4.06"><rect width="4.06" height="4.06" fill="#fff"/><rect x="-0.1" y="-0.1" width="2.23" height="2.23" fill="#000"/><rect x="1.9299999999999997" y="1.9299999999999997" width="2.23" height="2.23" fill="#000"/></pattern>
<rect x="592.70" y="424.00" width="33.90" height="62.20" fill="url(#p24)" stroke="#000" stroke-width="1.4"/>
<line x1="483.20" y1="383.93" x2="483.20" y2="486.88" stroke="#000" stroke-width="1.35"/>
<line x1="480.60" y1="486.20" x2="483.20" y2="486.20" stroke="#000" stroke-width="1.35"/>
<text transform="translate(475.90 489.14) scale(0.96 1)" font-size="10.10" text-anchor="end" >0</text>
<line x1="480.60" y1="452.33" x2="483.20" y2="452.33" stroke="#000" stroke-width="1.35"/>
<text transform="translate(475.90 455.27) scale(0.96 1)" font-size="10.10" text-anchor="end" >2</text>
<line x1="480.60" y1="418.47" x2="483.20" y2="418.47" stroke="#000" stroke-width="1.35"/>
<text transform="translate(475.90 421.40) scale(0.96 1)" font-size="10.10" text-anchor="end" >4</text>
<line x1="480.60" y1="384.60" x2="483.20" y2="384.60" stroke="#000" stroke-width="1.35"/>
<text transform="translate(475.90 387.54) scale(0.96 1)" font-size="10.10" text-anchor="end" >6</text>
<line x1="482.52" y1="486.20" x2="636.00" y2="486.20" stroke="#000" stroke-width="1.35"/>
<line x1="509.80" y1="486.20" x2="509.80" y2="489.20" stroke="#000" stroke-width="1.35"/>
<line x1="559.45" y1="486.20" x2="559.45" y2="489.20" stroke="#000" stroke-width="1.35"/>
<line x1="609.65" y1="486.20" x2="609.65" y2="489.20" stroke="#000" stroke-width="1.35"/>
<text transform="translate(508.00 496.00) rotate(-45) scale(1.1 1)" font-size="7.80" text-anchor="end" >AD-F</text>
<text transform="translate(557.65 496.00) rotate(-45) scale(1.1 1)" font-size="7.80" text-anchor="end" >PF-F</text>
<text transform="translate(607.85 496.00) rotate(-45) scale(1.1 1)" font-size="7.80" text-anchor="end" >AF-F</text>
<text transform="translate(461.70 434.50) rotate(-90) scale(1.03 1)" font-size="9.59" text-anchor="middle" >Birth body weight (gm)</text>
<line x1="496.40" y1="388.40" x2="569.20" y2="388.40" stroke="#000" stroke-width="1.25"/>
<polyline fill="none" stroke="#000" stroke-width="1.25" points="543.40,386.20 543.40,379.50 609.40,379.50 609.40,416.30"/>
<text transform="translate(583.90 375.00) scale(1.1 1)" font-size="6.50" text-anchor="middle" >*</text>
<circle cx="327.3" cy="367.8" r="5.0" fill="none" stroke="#000" stroke-width="1.3"/>
<line x1="330.84" y1="364.26" x2="335.60" y2="359.70" stroke="#000" stroke-width="1.3"/>
<polyline fill="none" stroke="#000" stroke-width="1.3" points="330.60,359.70 335.60,359.70 335.60,364.70"/>
<circle cx="560" cy="367.6" r="4.2" fill="none" stroke="#000" stroke-width="1.3"/>
<line x1="560.00" y1="371.80" x2="560.00" y2="375.80" stroke="#000" stroke-width="1.3"/>
<line x1="556.40" y1="373.80" x2="563.60" y2="373.80" stroke="#000" stroke-width="1.3"/>
<circle cx="160.9" cy="549.4" r="6.1" fill="none" stroke="#000" stroke-width="1.3"/>
<line x1="165.21" y1="545.09" x2="170.90" y2="539.60" stroke="#000" stroke-width="1.3"/>
<polyline fill="none" stroke="#000" stroke-width="1.3" points="164.30,539.60 170.90,539.60 170.90,546.20"/>
<circle cx="470.3" cy="543.2" r="5.3" fill="none" stroke="#000" stroke-width="1.3"/>
<line x1="470.30" y1="548.50" x2="470.30" y2="552.50" stroke="#000" stroke-width="1.3"/>
<line x1="466.70" y1="550.50" x2="473.90" y2="550.50" stroke="#000" stroke-width="1.3"/>
<text transform="translate(0.20 550.30) scale(1.1 1)" font-size="17.00" text-anchor="start" >j</text>
<line x1="42.00" y1="550.80" x2="42.00" y2="696.80" stroke="#000" stroke-width="1.2"/>
<line x1="39.40" y1="696.20" x2="42.00" y2="696.20" stroke="#000" stroke-width="1.2"/>
<text transform="translate(35.40 699.57) scale(1.1 1)" font-size="8.30" text-anchor="end" >0</text>
<line x1="39.40" y1="660.00" x2="42.00" y2="660.00" stroke="#000" stroke-width="1.2"/>
<text transform="translate(35.40 663.37) scale(1.1 1)" font-size="8.30" text-anchor="end" >50</text>
<line x1="39.40" y1="623.80" x2="42.00" y2="623.80" stroke="#000" stroke-width="1.2"/>
<text transform="translate(35.40 627.17) scale(1.1 1)" font-size="8.30" text-anchor="end" >100</text>
<line x1="39.40" y1="587.60" x2="42.00" y2="587.60" stroke="#000" stroke-width="1.2"/>
<text transform="translate(35.40 590.97) scale(1.1 1)" font-size="8.30" text-anchor="end" >150</text>
<line x1="39.40" y1="551.40" x2="42.00" y2="551.40" stroke="#000" stroke-width="1.2"/>
<text transform="translate(35.40 554.77) scale(1.1 1)" font-size="8.30" text-anchor="end" >200</text>
<line x1="41.40" y1="696.20" x2="258.80" y2="696.20" stroke="#000" stroke-width="1.2"/>
<line x1="42.00" y1="696.20" x2="42.00" y2="699.20" stroke="#000" stroke-width="1.2"/>
<line x1="114.27" y1="696.20" x2="114.27" y2="699.20" stroke="#000" stroke-width="1.2"/>
<line x1="186.53" y1="696.20" x2="186.53" y2="699.20" stroke="#000" stroke-width="1.2"/>
<line x1="258.80" y1="696.20" x2="258.80" y2="699.20" stroke="#000" stroke-width="1.2"/>
<text transform="translate(42.00 711.20) scale(1.1 1)" font-size="8.30" text-anchor="middle" >0</text>
<text transform="translate(114.27 711.20) scale(1.1 1)" font-size="8.30" text-anchor="middle" >25</text>
<text transform="translate(186.53 711.20) scale(1.1 1)" font-size="8.30" text-anchor="middle" >50</text>
<text transform="translate(258.80 711.20) scale(1.1 1)" font-size="8.30" text-anchor="middle" >75</text>
<line x1="224.11" y1="567.69" x2="224.11" y2="557.55" stroke="#000" stroke-width="1.0"/>
<line x1="221.11" y1="567.69" x2="227.11" y2="567.69" stroke="#000" stroke-width="1.0"/>
<line x1="221.11" y1="557.55" x2="227.11" y2="557.55" stroke="#000" stroke-width="1.0"/>
<line x1="183.64" y1="613.66" x2="183.64" y2="600.63" stroke="#000" stroke-width="1.0"/>
<line x1="180.64" y1="613.66" x2="186.64" y2="613.66" stroke="#000" stroke-width="1.0"/>
<line x1="180.64" y1="600.63" x2="186.64" y2="600.63" stroke="#000" stroke-width="1.0"/>
<polyline fill="none" stroke="#000" stroke-width="1.25" points="44.89,693.74 50.67,691.64 62.23,688.82 82.47,683.96 102.70,674.12 122.94,659.42 143.17,641.18 163.41,626.33 183.64,600.63 203.88,589.41 224.11,564.07"/>
<circle cx="44.89" cy="693.74" r="2.95" fill="#000"/>
<circle cx="50.67" cy="691.64" r="2.95" fill="#000"/>
<circle cx="62.23" cy="688.82" r="2.95" fill="#000"/>
<circle cx="82.47" cy="683.96" r="2.95" fill="#000"/>
<circle cx="102.70" cy="674.12" r="2.95" fill="#000"/>
<circle cx="122.94" cy="659.42" r="2.95" fill="#000"/>
<circle cx="143.17" cy="641.18" r="2.95" fill="#000"/>
<circle cx="163.41" cy="626.33" r="2.95" fill="#000"/>
<circle cx="183.64" cy="600.63" r="2.95" fill="#000"/>
<circle cx="203.88" cy="589.41" r="2.95" fill="#000"/>
<circle cx="224.11" cy="564.07" r="2.95" fill="#000"/>
<polyline fill="none" stroke="#000" stroke-width="1.25" points="44.89,693.38 50.67,691.13 62.23,688.31 82.47,683.46 102.70,673.54 122.94,658.77 143.17,640.45 163.41,625.68 183.64,599.55 203.88,588.54 224.11,562.40"/>
<rect x="42.04" y="690.53" width="5.70" height="5.70" fill="#000"/>
<rect x="47.82" y="688.28" width="5.70" height="5.70" fill="#000"/>
<rect x="59.38" y="685.46" width="5.70" height="5.70" fill="#000"/>
<rect x="79.62" y="680.61" width="5.70" height="5.70" fill="#000"/>
<rect x="99.85" y="670.69" width="5.70" height="5.70" fill="#000"/>
<rect x="120.09" y="655.92" width="5.70" height="5.70" fill="#000"/>
<rect x="140.32" y="637.60" width="5.70" height="5.70" fill="#000"/>
<rect x="160.56" y="622.83" width="5.70" height="5.70" fill="#000"/>
<rect x="180.79" y="596.70" width="5.70" height="5.70" fill="#000"/>
<rect x="201.03" y="585.69" width="5.70" height="5.70" fill="#000"/>
<rect x="221.26" y="559.55" width="5.70" height="5.70" fill="#000"/>
<polyline fill="none" stroke="#000" stroke-width="1.25" points="44.89,694.39 50.67,692.94 62.23,690.91 82.47,685.85 102.70,677.45 122.94,664.20 143.17,650.73 163.41,634.44 183.64,607.15 203.88,595.35 224.11,571.67"/>
<polygon points="44.89,690.94 41.74,696.84 48.04,696.84" fill="#000"/>
<polygon points="50.67,689.49 47.52,695.39 53.82,695.39" fill="#000"/>
<polygon points="62.23,687.46 59.08,693.36 65.38,693.36" fill="#000"/>
<polygon points="82.47,682.40 79.32,688.30 85.62,688.30" fill="#000"/>
<polygon points="102.70,674.00 99.55,679.90 105.85,679.90" fill="#000"/>
<polygon points="122.94,660.75 119.79,666.65 126.09,666.65" fill="#000"/>
<polygon points="143.17,647.28 140.02,653.18 146.32,653.18" fill="#000"/>
<polygon points="163.41,630.99 160.26,636.89 166.56,636.89" fill="#000"/>
<polygon points="183.64,603.70 180.49,609.60 186.79,609.60" fill="#000"/>
<polygon points="203.88,591.90 200.73,597.80 207.03,597.80" fill="#000"/>
<polygon points="224.11,568.22 220.96,574.12 227.26,574.12" fill="#000"/>
<line x1="70.60" y1="552.70" x2="82.20" y2="552.70" stroke="#000" stroke-width="1.2"/>
<circle cx="76.40" cy="552.70" r="2.95" fill="#000"/>
<text transform="translate(92.00 555.30) scale(1.13 1)" font-size="10.00" text-anchor="start" >AD-M</text>
<line x1="70.60" y1="565.20" x2="82.20" y2="565.20" stroke="#000" stroke-width="1.2"/>
<rect x="73.55" y="562.35" width="5.70" height="5.70" fill="#000"/>
<text transform="translate(92.00 568.50) scale(1.13 1)" font-size="10.00" text-anchor="start" >PF-M</text>
<line x1="70.60" y1="578.40" x2="82.20" y2="578.40" stroke="#000" stroke-width="1.2"/>
<polygon points="76.40,574.95 73.25,580.85 79.55,580.85" fill="#000"/>
<text transform="translate(92.00 582.60) scale(1.13 1)" font-size="10.00" text-anchor="start" >AF-M</text>
<text transform="translate(11.30 625.00) rotate(-90) scale(1.1 1)" font-size="8.49" text-anchor="middle" >Body weight (gm)</text>
<text transform="translate(127.60 727.20) scale(1.1 1)" font-size="8.60" text-anchor="start" >Age (days)</text>
<text transform="translate(322.20 550.30) scale(1.1 1)" font-size="16.00" text-anchor="start" >k</text>
<line x1="361.05" y1="549.70" x2="361.05" y2="694.70" stroke="#000" stroke-width="1.2"/>
<line x1="358.45" y1="694.10" x2="361.05" y2="694.10" stroke="#000" stroke-width="1.2"/>
<text transform="translate(354.45 697.87) scale(1.1 1)" font-size="8.30" text-anchor="end" >0</text>
<line x1="358.45" y1="646.17" x2="361.05" y2="646.17" stroke="#000" stroke-width="1.2"/>
<text transform="translate(354.45 649.94) scale(1.1 1)" font-size="8.30" text-anchor="end" >50</text>
<line x1="358.45" y1="598.23" x2="361.05" y2="598.23" stroke="#000" stroke-width="1.2"/>
<text transform="translate(354.45 602.00) scale(1.1 1)" font-size="8.30" text-anchor="end" >100</text>
<line x1="358.45" y1="550.30" x2="361.05" y2="550.30" stroke="#000" stroke-width="1.2"/>
<text transform="translate(354.45 554.07) scale(1.1 1)" font-size="8.30" text-anchor="end" >150</text>
<line x1="360.45" y1="694.10" x2="577.80" y2="694.10" stroke="#000" stroke-width="1.2"/>
<line x1="361.05" y1="694.10" x2="361.05" y2="697.10" stroke="#000" stroke-width="1.2"/>
<line x1="433.30" y1="694.10" x2="433.30" y2="697.10" stroke="#000" stroke-width="1.2"/>
<line x1="505.55" y1="694.10" x2="505.55" y2="697.10" stroke="#000" stroke-width="1.2"/>
<line x1="577.80" y1="694.10" x2="577.80" y2="697.10" stroke="#000" stroke-width="1.2"/>
<text transform="translate(361.05 709.40) scale(1.1 1)" font-size="8.30" text-anchor="middle" >0</text>
<text transform="translate(433.30 709.40) scale(1.1 1)" font-size="8.30" text-anchor="middle" >25</text>
<text transform="translate(505.55 709.40) scale(1.1 1)" font-size="8.30" text-anchor="middle" >50</text>
<text transform="translate(577.80 709.40) scale(1.1 1)" font-size="8.30" text-anchor="middle" >75</text>
<polyline fill="none" stroke="#000" stroke-width="1.25" points="363.94,689.40 369.72,689.31 381.28,686.43 401.51,680.10 421.74,666.01 441.97,647.13 462.20,628.62 482.43,608.78 502.66,600.82 522.89,587.40 543.12,568.23"/>
<circle cx="363.94" cy="689.40" r="2.95" fill="#000"/>
<circle cx="369.72" cy="689.31" r="2.95" fill="#000"/>
<circle cx="381.28" cy="686.43" r="2.95" fill="#000"/>
<circle cx="401.51" cy="680.10" r="2.95" fill="#000"/>
<circle cx="421.74" cy="666.01" r="2.95" fill="#000"/>
<circle cx="441.97" cy="647.13" r="2.95" fill="#000"/>
<circle cx="462.20" cy="628.62" r="2.95" fill="#000"/>
<circle cx="482.43" cy="608.78" r="2.95" fill="#000"/>
<circle cx="502.66" cy="600.82" r="2.95" fill="#000"/>
<circle cx="522.89" cy="587.40" r="2.95" fill="#000"/>
<circle cx="543.12" cy="568.23" r="2.95" fill="#000"/>
<polyline fill="none" stroke="#000" stroke-width="1.25" points="363.94,689.50 369.72,689.50 381.28,686.53 401.51,681.73 421.74,665.82 441.97,646.55 462.20,628.24 482.43,607.44 502.66,599.00 522.89,582.13 543.12,571.10"/>
<rect x="361.09" y="686.65" width="5.70" height="5.70" fill="#000"/>
<rect x="366.87" y="686.65" width="5.70" height="5.70" fill="#000"/>
<rect x="378.43" y="683.68" width="5.70" height="5.70" fill="#000"/>
<rect x="398.66" y="678.88" width="5.70" height="5.70" fill="#000"/>
<rect x="418.89" y="662.97" width="5.70" height="5.70" fill="#000"/>
<rect x="439.12" y="643.70" width="5.70" height="5.70" fill="#000"/>
<rect x="459.35" y="625.39" width="5.70" height="5.70" fill="#000"/>
<rect x="479.58" y="604.59" width="5.70" height="5.70" fill="#000"/>
<rect x="499.81" y="596.15" width="5.70" height="5.70" fill="#000"/>
<rect x="520.04" y="579.28" width="5.70" height="5.70" fill="#000"/>
<rect x="540.27" y="568.25" width="5.70" height="5.70" fill="#000"/>
<polyline fill="none" stroke="#000" stroke-width="1.25" points="363.94,690.27 369.72,690.27 381.28,687.58 401.51,685.76 421.74,671.38 441.97,653.36 462.20,637.63 482.43,613.00 502.66,607.24 522.89,585.29 543.12,574.46"/>
<polygon points="363.94,693.72 360.79,687.82 367.09,687.82" fill="#000"/>
<polygon points="369.72,693.72 366.57,687.82 372.87,687.82" fill="#000"/>
<polygon points="381.28,691.03 378.13,685.13 384.43,685.13" fill="#000"/>
<polygon points="401.51,689.21 398.36,683.31 404.66,683.31" fill="#000"/>
<polygon points="421.74,674.83 418.59,668.93 424.89,668.93" fill="#000"/>
<polygon points="441.97,656.81 438.82,650.91 445.12,650.91" fill="#000"/>
<polygon points="462.20,641.08 459.05,635.18 465.35,635.18" fill="#000"/>
<polygon points="482.43,616.45 479.28,610.55 485.58,610.55" fill="#000"/>
<polygon points="502.66,610.69 499.51,604.79 505.81,604.79" fill="#000"/>
<polygon points="522.89,588.74 519.74,582.84 526.04,582.84" fill="#000"/>
<polygon points="543.12,577.91 539.97,572.01 546.27,572.01" fill="#000"/>
<line x1="388.30" y1="552.70" x2="399.90" y2="552.70" stroke="#000" stroke-width="1.2"/>
<circle cx="394.10" cy="552.70" r="2.95" fill="#000"/>
<text transform="translate(406.90 557.50) scale(1.13 1)" font-size="10.00" text-anchor="start" >AD-F</text>
<line x1="388.30" y1="567.40" x2="399.90" y2="567.40" stroke="#000" stroke-width="1.2"/>
<rect x="391.25" y="564.55" width="5.70" height="5.70" fill="#000"/>
<text transform="translate(406.90 571.80) scale(1.13 1)" font-size="10.00" text-anchor="start" >PF-F</text>
<line x1="388.30" y1="582.20" x2="399.90" y2="582.20" stroke="#000" stroke-width="1.2"/>
<polygon points="394.10,585.65 390.95,579.75 397.25,579.75" fill="#000"/>
<text transform="translate(406.90 585.50) scale(1.13 1)" font-size="10.00" text-anchor="start" >AF-F</text>
<text transform="translate(330.90 623.20) rotate(-90) scale(1.1 1)" font-size="8.53" text-anchor="middle" >Body weight (g)</text>
<text transform="translate(446.40 724.40) scale(1.1 1)" font-size="8.60" text-anchor="start" >Age (days)</text>
</svg></body></html>
